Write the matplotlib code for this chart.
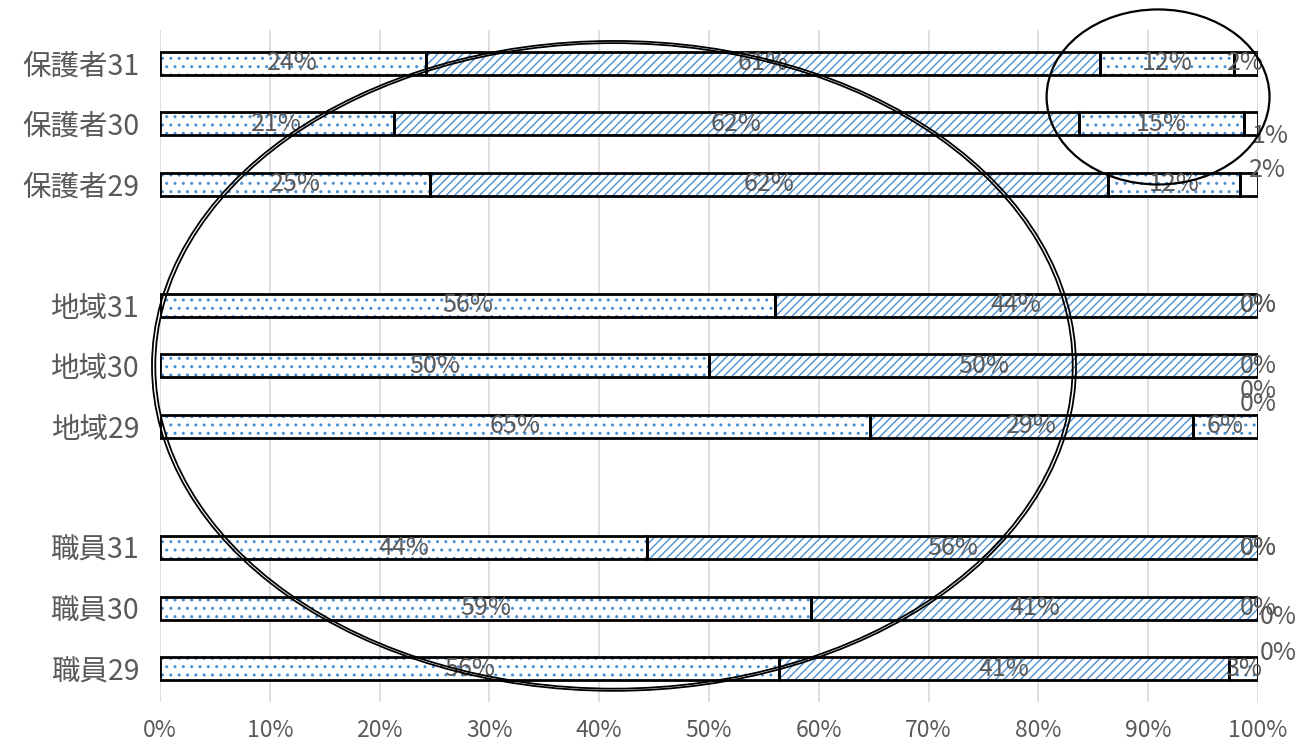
import matplotlib
matplotlib.use("Agg")
import matplotlib.pyplot as plt
from matplotlib.patches import Ellipse
import numpy as np

plt.rcParams["font.family"] = ["Noto Sans CJK JP", "DejaVu Sans"]
plt.rcParams["hatch.linewidth"] = 1.0

# rows top to bottom, None = empty spacer row between groups
rows = ["保護者31", "保護者30", "保護者29", None,
        "地域31", "地域30", "地域29", None,
        "職員31", "職員30", "職員29"]

# share of each answer (percent), one list per answer category
seg1 = [24.2, 21.3, 24.6, 56.0, 50.0, 64.7, 44.4, 59.3, 56.4]
seg2 = [61.4, 62.4, 61.7, 44.0, 50.0, 29.4, 55.6, 40.7, 41.0]
seg3 = [12.2, 15.0, 12.1, 0.0, 0.0, 5.9, 0.0, 0.0, 2.6]
seg4 = [2.2, 1.3, 1.6, 0.0, 0.0, 0.0, 0.0, 0.0, 0.0]

BLUE = "#4a8fd0"
GREY = "#595959"
hatches = ["..", "////", "..", ""]

# label nudges (dx right, dy down, in pixels) for crowded labels at the right end
nudge = {(1, 3): (19, 12), (2, 3): (18, -14),
         (4, 3): (0, 25), (5, 3): (0, -22),
         (7, 3): (20, 9), (8, 3): (20, -16)}

fig = plt.figure(figsize=(13.1, 7.49), dpi=100)
ax = fig.add_axes([0.1221, 0.0627, 0.8382, 0.8976])

labels = [r for r in rows if r is not None]
ypos = np.array([i for i, r in enumerate(rows) if r is not None], dtype=float)
segs = np.array([seg1, seg2, seg3, seg4]) / 100.0
h = 0.38

left = np.zeros(len(labels))
for k, vals in enumerate(segs):
    ax.barh(ypos, vals, left=left, height=h, color="white",
            edgecolor=BLUE, hatch=hatches[k], lw=0, zorder=2)
    ax.barh(ypos, vals, left=left, height=h, fill=False,
            edgecolor="black", lw=2, zorder=3)
    for i, (v, l0) in enumerate(zip(vals, left)):
        dx, dy = nudge.get((i, k), (0, 0))
        ax.annotate(f"{v * 100:.0f}%", (l0 + v / 2, ypos[i]),
                    xytext=(dx, -dy), textcoords="offset pixels",
                    ha="center", va="center", fontsize=18,
                    color=GREY, zorder=4, annotation_clip=False)
    left = left + vals

ax.set_xlim(0, 1)
ax.set_ylim(10.55, -0.55)
ax.set_xticks(np.linspace(0, 1, 11))
ax.set_xticklabels([f"{int(t)}%" for t in np.arange(0, 101, 10)])
ax.set_yticks(ypos)
ax.set_yticklabels(labels)
ax.tick_params(axis="both", length=0, colors=GREY, labelsize=16.5)
ax.tick_params(axis="y", pad=15, labelsize=20.5)
ax.tick_params(axis="x", pad=12)
ax.grid(axis="x", color="#d9d9d9", lw=1.2, zorder=0)
ax.set_axisbelow(True)
for s in ax.spines.values():
    s.set_visible(False)

# hand-drawn style highlight rings
for w_off in (0.0, 0.006):
    ax.add_patch(Ellipse((0.4135, 5.0), 0.8415 - w_off, 10.73 - w_off * 12,
                         fill=False, ec="black", lw=1.3, zorder=5, clip_on=False))
ax.add_patch(Ellipse((0.909, 0.56), 0.203, 2.89, fill=False, ec="black",
                     lw=1.6, zorder=5, clip_on=False))

fig.savefig("out.png", dpi=100)
